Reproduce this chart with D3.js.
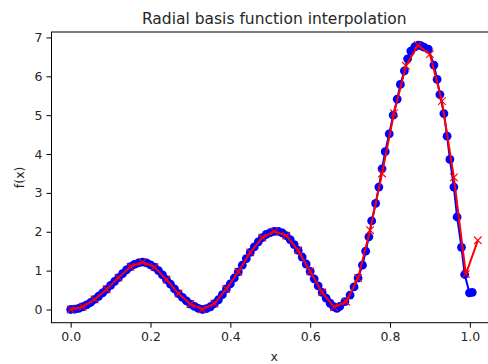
<!DOCTYPE html>
<html><head><meta charset="utf-8">
<script src="https://cdn.jsdelivr.net/npm/d3@7"></script>
<style>
html,body{margin:0;padding:0;background:#fff;}
svg{display:block;font-family:"DejaVu Sans",sans-serif;}
</style></head>
<body>
<svg id="c" width="488" height="364"></svg>
<script>
// sampled function (blue)
const blueX = [0.00,0.01,0.02,0.03,0.04,0.05,0.06,0.07,0.08,0.09,0.10,0.11,0.12,0.13,0.14,0.15,0.16,0.17,0.18,0.19,
  0.20,0.21,0.22,0.23,0.24,0.25,0.26,0.27,0.28,0.29,0.30,0.31,0.32,0.33,0.34,0.35,0.36,0.37,0.38,0.39,
  0.40,0.41,0.42,0.43,0.44,0.45,0.46,0.47,0.48,0.49,0.50,0.51,0.52,0.53,0.54,0.55,0.56,0.57,0.58,0.59,
  0.60,0.61,0.62,0.63,0.64,0.65,
  0.659,0.667,0.674,0.687,0.700,0.710,0.720,0.731,0.739,0.747,0.754,0.764,0.772,0.780,0.788,0.798,0.808,
  0.818,0.826,0.836,0.844,0.852,0.862,0.871,0.877,0.885,0.896,0.910,0.918,0.925,0.935,0.943,0.950,0.960,
  0.968,0.979,0.987,0.999,1.006];
const blueY = [0.00,0.01,0.03,0.07,0.12,0.18,0.26,0.34,0.43,0.52,0.62,0.72,0.82,0.92,1.02,1.10,1.16,1.20,1.22,1.20,
  1.15,1.09,1.00,0.89,0.77,0.65,0.53,0.41,0.31,0.22,0.14,0.08,0.03,0.00,0.02,0.07,0.15,0.25,0.38,0.53,
  0.66,0.81,0.97,1.14,1.31,1.47,1.61,1.74,1.85,1.93,1.98,2.01,2.01,1.97,1.90,1.80,1.67,1.52,1.35,1.17,
  0.98,0.79,0.61,0.44,0.29,0.16,
  0.07,0.03,0.08,0.20,0.37,0.58,0.81,1.14,1.50,1.87,2.28,2.73,3.15,3.62,4.06,4.52,5.00,
  5.41,5.79,6.14,6.45,6.65,6.76,6.80,6.79,6.75,6.70,6.29,5.92,5.53,5.04,4.46,3.86,3.15,
  2.38,1.60,0.90,0.43,0.44];
// RBF interpolation (red)
const redX = [0.00,0.03,0.06,0.09,0.12,0.15,0.18,0.21,0.24,0.27,0.30,0.33,0.36,0.39,0.42,0.45,0.48,0.51,
  0.54,0.57,0.60,0.63,0.66,0.69,0.72,0.75,0.78,0.81,0.84,0.87,0.90,0.93,0.96,0.99,1.02];
const redY = [0.00,0.07,0.26,0.52,0.82,1.10,1.22,1.09,0.77,0.41,0.14,0.00,0.15,0.53,0.97,1.47,1.85,2.01,
  1.90,1.52,0.98,0.44,0.06,0.20,0.81,2.04,3.50,5.05,6.27,6.80,6.57,5.36,3.40,0.91,1.78];
const xTicks = [0.0,0.2,0.4,0.6,0.8,1.0];
const yTicks = [0,1,2,3,4,5,6,7];
const title = "Radial basis function interpolation";
const xLabel = "x", yLabel = "f(x)";

const svg = d3.select("#c");
const L = 51.5, R = 497, T = 32, B = 322.7;
const x = d3.scaleLinear().domain([-0.048, 1.068]).range([L, R]);
const y = d3.scaleLinear().domain([-0.34, 7.14]).range([B, T]);

const blue = blueX.map((v,i)=>[v, blueY[i]]);
const red = redX.map((v,i)=>[v, redY[i]]);

const plot = svg.append("g");
const line = d3.line().x(d=>x(d[0])).y(d=>y(d[1]));
plot.selectAll("circle.b").data(blue).join("circle").attr("class","b")
  .attr("cx",d=>x(d[0])).attr("cy",d=>y(d[1])).attr("r",4.4).attr("fill","#0000ff");
plot.append("path").attr("d", line(blue)).attr("fill","none").attr("stroke","#0000ff").attr("stroke-width",2);
plot.append("path").attr("d", line(red)).attr("fill","none").attr("stroke","#ff0000").attr("stroke-width",2);
const s = 3.8;
plot.selectAll("path.rx").data(red).join("path").attr("class","rx")
  .attr("d", d=>{const cx=x(d[0]), cy=y(d[1]); return `M${cx-s},${cy-s}L${cx+s},${cy+s}M${cx-s},${cy+s}L${cx+s},${cy-s}`;})
  .attr("stroke","#ff0000").attr("stroke-width",1.1).attr("fill","none");

// axes
const xAxis = d3.axisBottom(x).tickValues(xTicks).tickFormat(d3.format(".1f")).tickSize(5).tickPadding(4);
const yAxis = d3.axisLeft(y).tickValues(yTicks).tickFormat(d3.format("d")).tickSize(5).tickPadding(4);
const gx = svg.append("g").attr("transform",`translate(0,${B})`).call(xAxis);
const gy = svg.append("g").attr("transform",`translate(${L},0)`).call(yAxis);
[gx,gy].forEach(g=>{
  g.select(".domain").remove();
  g.selectAll("line").attr("stroke","#000").attr("stroke-width",1);
  g.selectAll("text").attr("fill","#262626").style("font-size","12.5px").style("font-family","DejaVu Sans");
});
// spines
svg.append("rect").attr("x",L).attr("y",T).attr("width",R-L).attr("height",B-T)
  .attr("fill","none").attr("stroke","#000").attr("stroke-width",1);

svg.append("text").attr("x",(L+R)/2).attr("y",T-8).attr("text-anchor","middle")
  .style("font-size","15.5px").attr("fill","#262626").text(title);
svg.append("text").attr("x",(L+R)/2).attr("y",361).attr("text-anchor","middle")
  .style("font-size","12.5px").attr("fill","#262626").text(xLabel);
svg.append("text").attr("transform",`translate(24,${(T+B)/2}) rotate(-90)`).attr("text-anchor","middle")
  .style("font-size","12.5px").attr("fill","#262626").text(yLabel);
</script>
</body></html>
